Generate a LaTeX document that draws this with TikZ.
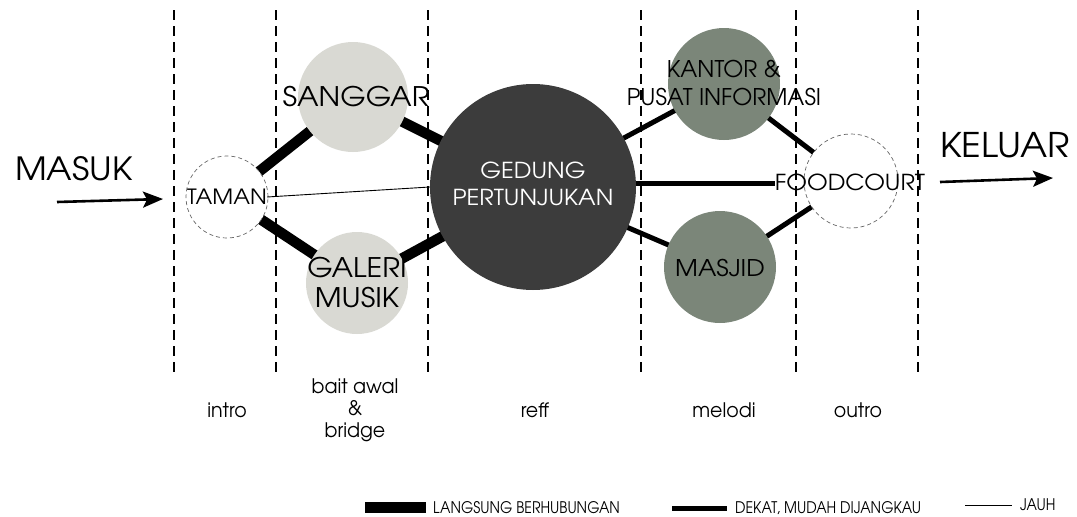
\documentclass[tikz,border=0pt]{standalone}
\usepackage{fontspec}
\setmainfont[FakeStretch=1.08]{TeX Gyre Adventor}
\newfontfamily\plainfont{TeX Gyre Adventor}
\newfontfamily\phasefont[FakeStretch=0.95]{TeX Gyre Adventor}
\newfontfamily\legendfont[FakeStretch=0.88]{TeX Gyre Adventor}
\usetikzlibrary{arrows.meta}
\pgfdeclarelayer{background}
\pgfsetlayers{background,main}
\definecolor{lightc}{HTML}{D9D9D3}
\definecolor{darkc}{HTML}{3C3C3C}
\definecolor{greenc}{HTML}{7B8679}
\tikzset{
  zone/.style={line width=1.2pt, dash pattern=on 10pt off 6pt},
  bubble/.style={circle, inner sep=0pt, draw=none},
  openbubble/.style={circle, inner sep=0pt, fill=white, draw=black!60, line width=0.7pt, dash pattern=on 4pt off 3pt},
  lbl/.style={inner sep=0pt, align=center},
  strong/.style={line width=10.5pt},
  medium/.style={line width=5pt},
  weak/.style={line width=0.9pt},
  flow/.style={line width=2.6pt, -{Stealth[length=20pt,width=16pt,inset=4pt]}},
  phase/.style={lbl, font=\phasefont\fontsize{20}{22}\selectfont},
  legend/.style={inner sep=0pt, anchor=west, font=\legendfont\fontsize{16}{18}\selectfont}
}
\begin{document}
\begin{tikzpicture}[x=1pt,y=-1pt]
\useasboundingbox (0,0) rectangle (1077,517);
% zone separators
\foreach \xx in {174,276,428,641,796,918}{
  \draw[zone] (\xx,10) -- (\xx,378);
}
% bubbles
\node[openbubble, minimum size=82pt] (taman) at (227,197) {};
\node[bubble, fill=lightc, minimum size=110pt] (sanggar) at (353,97) {};
\node[bubble, fill=lightc, minimum size=102pt] (galeri) at (357,283) {};
\node[bubble, fill=darkc, minimum size=206pt] (gedung) at (533,187) {};
\node[bubble, fill=greenc, minimum size=112pt] (kantor) at (724,84) {};
\node[bubble, fill=greenc, minimum size=112pt] (masjid) at (720,267) {};
\node[openbubble, minimum size=94pt] (food) at (851,181) {};
% labels
\node[lbl, font=\fontsize{21}{24}\selectfont] (tamanl) at (227,197) {TAMAN};
\node[lbl, font=\fontsize{27}{30}\selectfont] (sanggarl) at (356,97) {SANGGAR};
\node[lbl, font=\fontsize{27}{30}\selectfont] (galeril) at (357,283) {GALERI\\MUSIK};
\node[lbl, font=\fontsize{22}{27}\selectfont, text=white] (gedungl) at (533,184) {GEDUNG\\PERTUNJUKAN};
\node[lbl, font=\plainfont\fontsize{23}{28}\selectfont] (kantorl) at (724,83) {KANTOR \&\\PUSAT INFORMASI};
\node[lbl, font=\fontsize{23}{26}\selectfont] (masjidl) at (720,268) {MASJID};
\node[lbl, font=\fontsize{22}{26}\selectfont] (foodl) at (850,182) {FOODCOURT};
\node[lbl, font=\fontsize{32}{36}\selectfont] (masuk) at (74,169) {MASUK};
\node[lbl, font=\fontsize{34}{38}\selectfont] (keluar) at (1005,145) {KELUAR};
% connectors (behind bubbles)
\begin{pgfonlayer}{background}
\draw[strong] (taman.center) -- (sanggar.center);
\draw[strong] (sanggar.center) -- (gedung.center);
\draw[strong] (taman.center) -- (galeri.center);
\draw[strong] (galeri.center) -- (gedung.center);
\draw[medium] (gedung.center) -- (kantor.center);
\draw[medium] (gedung.center) -- (masjid.center);
\draw[medium] (kantor.center) -- (food.center);
\draw[medium] (masjid.center) -- (food.center);
\end{pgfonlayer}
\draw[medium] (gedung.east) ++(0,-4) coordinate (gfe) -- (gfe -| foodl.west);
\draw[weak] (tamanl.east) -- (gedung.west);
% entry/exit arrows
\coordinate (inS) at (57,202);
\coordinate (inE) at (163,199);
\coordinate (exS) at (940,182);
\coordinate (exE) at (1053,178);
\draw[flow] (inS) -- (inE);
\draw[flow] (exS) -- (exE);
% phases
\node[phase] (p1) at (227,410) {intro};
\node[phase] (p2) at (355,410) {bait awal\\\&\\bridge};
\node[phase] (p3) at (535,410) {reff};
\node[phase] (p4) at (724,410) {melodi};
\node[phase] (p5) at (858,410) {outro};
% legend
\fill (365,502) rectangle (426,513);
\node[legend] (l1) at (433,508) {LANGSUNG BERHUBUNGAN};
\draw[medium] (672,508) -- (727,508);
\node[legend] (l2) at (735,508) {DEKAT, MUDAH DIJANGKAU};
\draw[weak] (965,505) -- (1012,505);
\node[legend] (l3) at (1020,505) {JAUH};
\end{tikzpicture}
\end{document}
